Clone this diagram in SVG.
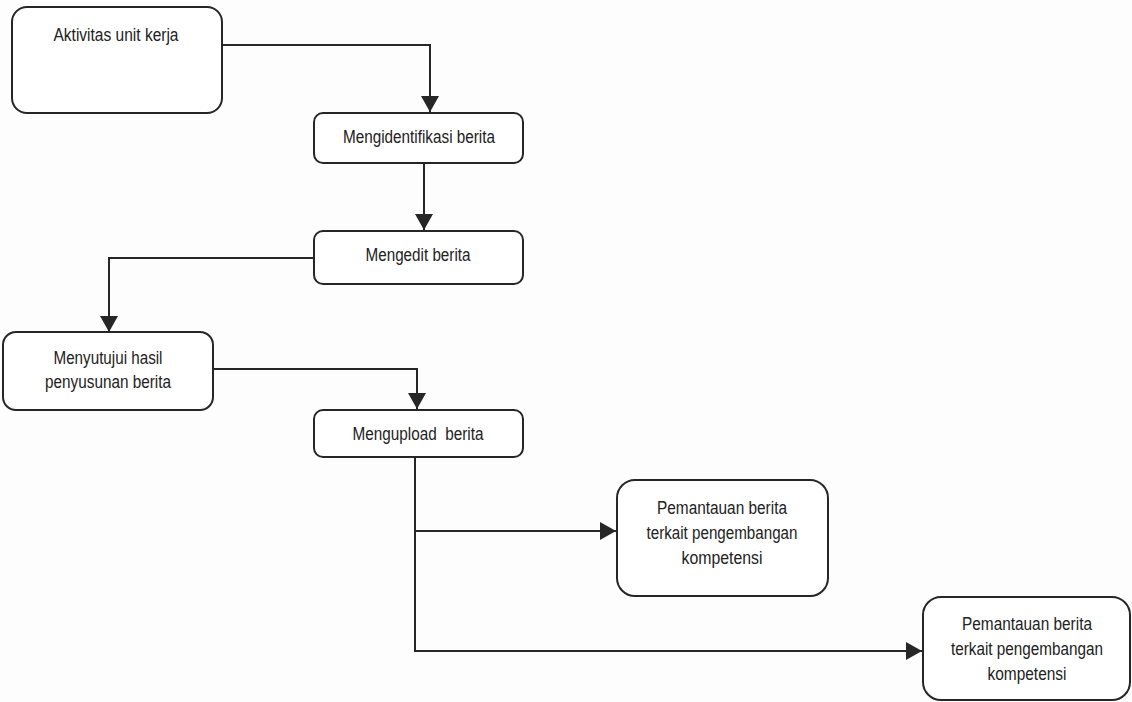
<svg xmlns="http://www.w3.org/2000/svg" width="1132" height="702" viewBox="0 0 1132 702">
  <style>
    .box { fill: #ffffff; stroke: #262626; stroke-width: 2; }
    .lbl { font-family: "Liberation Sans", Arial, sans-serif; font-size: 17.5px; fill: #222222; text-anchor: middle; }
    .wire { fill: none; stroke: #262626; stroke-width: 2; }
  </style>
  <defs>
    <marker id="arrow" markerUnits="userSpaceOnUse" markerWidth="18" markerHeight="18" viewBox="0 0 16 18" refX="16" refY="9" orient="auto">
      <path d="M0,0 L16,9 L0,18 Z" fill="#262626"/>
    </marker>
  </defs>
  <rect width="1132" height="702" fill="#fdfdfe"/>

  <!-- connectors -->
  <g id="connectors">
    <path class="wire" d="M222,45 H430 V112" marker-end="url(#arrow)"/>
    <path class="wire" d="M424,163 V230" marker-end="url(#arrow)"/>
    <path class="wire" d="M314,258 H109 V332" marker-end="url(#arrow)"/>
    <path class="wire" d="M213,369 H417 V409" marker-end="url(#arrow)"/>
    <path class="wire" d="M415,457 V651 H922" marker-end="url(#arrow)"/>
    <path class="wire" d="M415,531 H616" marker-end="url(#arrow)"/>
  </g>

  <!-- nodes (labels are condensed to fit the narrow lettering) -->
  <g id="aktivitas">
    <rect class="box" x="12" y="7" width="210" height="106" rx="15"/>
    <text class="lbl" x="116" y="41" textLength="125" lengthAdjust="spacingAndGlyphs">Aktivitas unit kerja</text>
  </g>
  <g id="identifikasi">
    <rect class="box" x="314" y="113" width="209" height="50" rx="9"/>
    <text class="lbl" x="419" y="143" textLength="152" lengthAdjust="spacingAndGlyphs">Mengidentifikasi berita</text>
  </g>
  <g id="edit">
    <rect class="box" x="314" y="231" width="209" height="53" rx="9"/>
    <text class="lbl" x="418" y="261" textLength="105" lengthAdjust="spacingAndGlyphs">Mengedit berita</text>
  </g>
  <g id="setuju">
    <rect class="box" x="3" y="332" width="210" height="78" rx="13"/>
    <text class="lbl" x="108" y="364" textLength="109" lengthAdjust="spacingAndGlyphs">Menyutujui hasil</text>
    <text class="lbl" x="108" y="388" textLength="126" lengthAdjust="spacingAndGlyphs">penyusunan berita</text>
  </g>
  <g id="upload">
    <rect class="box" x="314" y="410" width="209" height="47" rx="9"/>
    <text class="lbl" x="418" y="440" textLength="131" lengthAdjust="spacingAndGlyphs" xml:space="preserve">Mengupload  berita</text>
  </g>
  <g id="pantau1">
    <rect class="box" x="617" y="480" width="211" height="116" rx="18"/>
    <text class="lbl" x="722" y="514" textLength="130" lengthAdjust="spacingAndGlyphs">Pemantauan berita</text>
    <text class="lbl" x="722" y="539" textLength="151" lengthAdjust="spacingAndGlyphs">terkait pengembangan</text>
    <text class="lbl" x="722" y="564" textLength="81" lengthAdjust="spacingAndGlyphs">kompetensi</text>
  </g>
  <g id="pantau2">
    <rect class="box" x="923" y="597" width="207" height="103" rx="18"/>
    <text class="lbl" x="1027" y="630" textLength="130" lengthAdjust="spacingAndGlyphs">Pemantauan berita</text>
    <text class="lbl" x="1027" y="655" textLength="152" lengthAdjust="spacingAndGlyphs">terkait pengembangan</text>
    <text class="lbl" x="1027" y="680" textLength="79" lengthAdjust="spacingAndGlyphs">kompetensi</text>
  </g>
</svg>
